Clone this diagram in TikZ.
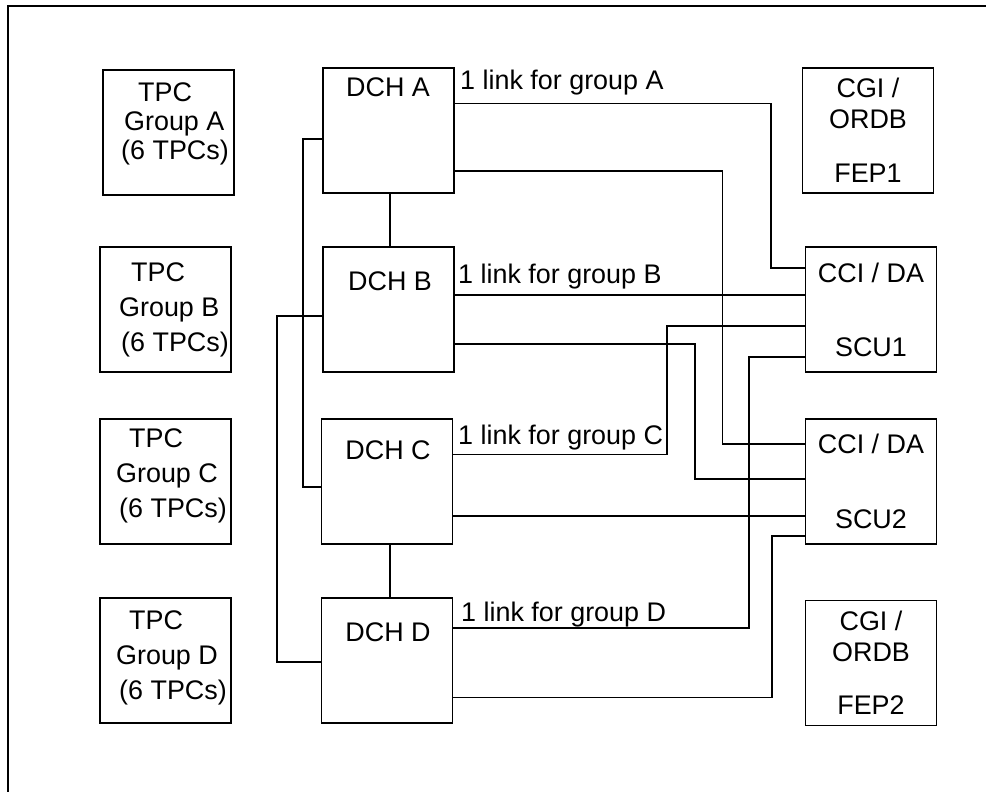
\documentclass[tikz,border=0pt]{standalone}
\usepackage{fontspec}
\newfontfamily\arialfont{Liberation Sans}
\tikzset{
  unitbox/.style={draw,line width=1.8bp,minimum width=131bp,minimum height=125bp,inner sep=0pt,
    align=center,font=\arialfont\fontsize{27}{31}\selectfont},
  boxtext/.style={inner sep=0pt,font=\arialfont\fontsize{27}{31}\selectfont},
  grptext/.style={inner sep=0pt,anchor=west,align=left,font=\arialfont\fontsize{27}{35}\selectfont},
  wire/.style={line width=1.8bp}
}

\begin{document}
\begin{tikzpicture}[x=1bp,y=-1bp]
    \useasboundingbox (0,0) rectangle (986,792);
    \draw[line width=1.8bp] (8,792) -- (8,6) -- (986,6);
    % TPC groups
    \node[unitbox] (tpca) at (168.5,132.5) {};
    \node[unitbox] (tpcb) at (165.5,309.5) {};
    \node[unitbox] (tpcc) at (165.5,481.5) {};
    \node[unitbox] (tpcd) at (165.5,660.5) {};
    \node[grptext,font=\arialfont\fontsize{27}{29}\selectfont] (tpca-t) at (121,124)
      {\hspace*{17bp}TPC\\\hspace*{3bp}Group A\\(6 TPCs)};
    \node[grptext] (tpcb-t) at (119,310) {\hspace*{12bp}TPC\\Group B\\\hspace*{2bp}(6 TPCs)};
    \node[grptext] (tpcc-t) at (116,476) {\hspace*{13bp}TPC\\Group C\\\hspace*{3bp}(6 TPCs)};
    \node[grptext] (tpcd-t) at (116,658) {\hspace*{13bp}TPC\\Group D\\\hspace*{3bp}(6 TPCs)};
    % DCHs
    \node[unitbox] (dcha) at (388.5,130.5) {};
    \node[unitbox] (dchb) at (388.5,309.5) {};
    \node[unitbox] (dchc) at (387,481.5) {};
    \node[unitbox] (dchd) at (387,660.5) {};
    \node[boxtext,anchor=base] (dcha-t) at (388,97) {DCH A};
    \node[boxtext,anchor=base] (dchb-t) at (390,290) {DCH B};
    \node[boxtext,anchor=base] (dchc-t) at (388,459) {DCH C};
    \node[boxtext,anchor=base] (dchd-t) at (388,641) {DCH D};
    % right column
    \node[unitbox] (fep1) at (868,130.5) {CGI /\\ORDB\\[23bp]FEP1};
    \node[unitbox] (scu1) at (871,309.5) {CCI / DA\\[43bp]SCU1};
    \node[unitbox] (scu2) at (871,481.5) {CCI / DA\\[44bp]SCU2};
    \node[unitbox] (fep2) at (871,663) {CGI /\\ORDB\\[22bp]FEP2};
    % DCH chain
    \draw[wire] (dcha.south -| 390,0) -- (dchb.north -| 390,0);
    \draw[wire] (dchc.south -| 390,0) -- (dchd.north -| 390,0);
    \draw[wire] (dcha.west |- 0,139) -| (303,487) -- (dchc.west |- 0,487);
    \draw[wire] (dchb.west |- 0,316) -| (277,662) -- (dchd.west |- 0,662);
    % links to SCUs
    \draw[wire] (dcha.east |- 0,103.5) -| (771,268) -- (scu1.west |- 0,268);
    \draw[wire] (dcha.east |- 0,171) -| (722.5,444) -- (scu2.west |- 0,444);
    \draw[wire] (dchb.east |- 0,295) -- (scu1.west |- 0,295);
    \draw[wire] (dchb.east |- 0,344) -| (695,479) -- (scu2.west |- 0,479);
    \draw[wire] (dchc.east |- 0,454.5) -| (667,326) -- (scu1.west |- 0,326);
    \draw[wire] (dchc.east |- 0,516) -- (scu2.west |- 0,516);
    \draw[wire] (dchd.east |- 0,628) -| (749,357) -- (scu1.west |- 0,357);
    \draw[wire] (dchd.east |- 0,697.5) -| (772,536) -- (scu2.west |- 0,536);
    \node[boxtext,anchor=base west] (linka) at (460,90) {1 link for group A};
    \node[boxtext,anchor=base west] (linkb) at (458,283) {1 link for group B};
    \node[boxtext,anchor=base west] (linkc) at (458,444) {1 link for group C};
    \node[boxtext,anchor=base west] (linkd) at (461,621) {1 link for group D};
\end{tikzpicture}
\end{document}
